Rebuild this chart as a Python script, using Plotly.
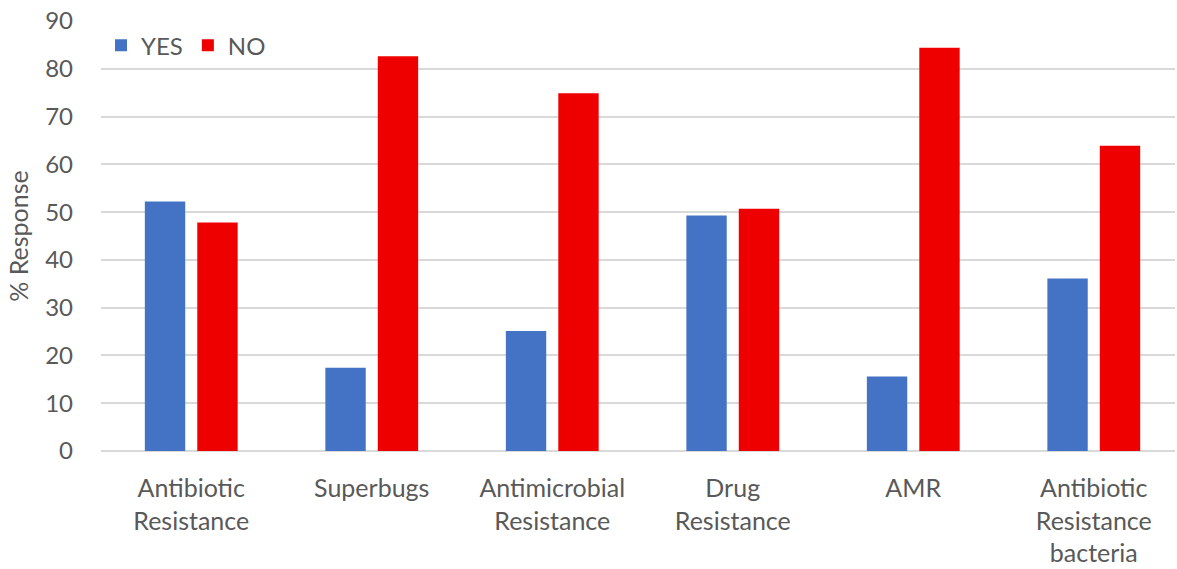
import plotly.graph_objects as go

categories = [
    "Antibiotic<br>Resistance",
    "Superbugs",
    "Antimicrobial<br>Resistance",
    "Drug<br>Resistance",
    "AMR",
    "Antibiotic<br>Resistance<br>bacteria",
]
yes_pct = [52.2, 17.4, 25.1, 49.3, 15.6, 36.1]
no_pct = [47.8, 82.6, 74.9, 50.7, 84.4, 63.9]
y_ticks = [0, 10, 20, 30, 40, 50, 60, 70, 80, 90]

TEXT = "#595959"
FONT = "Lato"

fig = go.Figure()
fig.add_trace(go.Bar(name="YES", x=categories, y=yes_pct, marker_color="#4472C4",
                     marker_line_width=0))
fig.add_trace(go.Bar(name="NO", x=categories, y=no_pct, marker_color="#EE0000",
                     marker_line_width=0))

fig.update_layout(
    width=1177, height=569,
    margin=dict(l=101, r=2, t=21, b=115),
    paper_bgcolor="white", plot_bgcolor="white",
    barmode="group", bargap=0.419, bargroupgap=0.23,
    font=dict(family=FONT, size=24, color=TEXT),
    legend=dict(orientation="h", x=0.0, y=0.995, xanchor="left", yanchor="top",
                font=dict(size=24, color=TEXT), bgcolor="rgba(0,0,0,0)",
                itemwidth=30, traceorder="normal"),
    xaxis=dict(showgrid=False, ticks="", showline=False, ticklabelstandoff=20,
               range=[-0.5, 5.45],
               tickfont=dict(size=25, color=TEXT)),
    yaxis=dict(range=[0, 90], tickvals=y_ticks, showgrid=True, gridcolor="#D9D9D9",
               gridwidth=1.5, zeroline=True, zerolinecolor="#D9D9D9", zerolinewidth=1.5,
               ticks="", ticklabelstandoff=27,
               tickfont=dict(size=24, color=TEXT),
               title=dict(text="% Response", font=dict(size=25, color=TEXT), standoff=9)),
)

fig.write_html("out.html")
